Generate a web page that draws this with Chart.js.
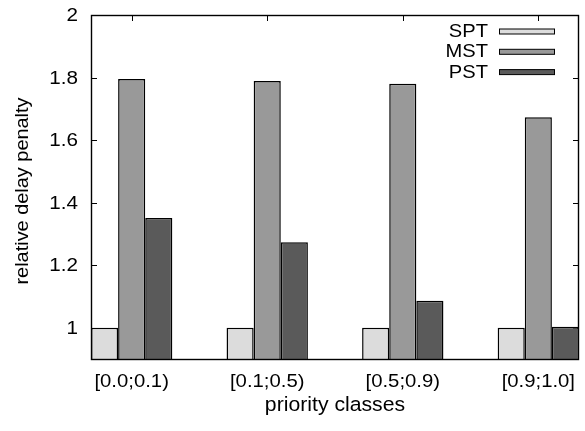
<!DOCTYPE html>
<html>
<head>
<meta charset="utf-8">
<script src="https://cdn.jsdelivr.net/npm/chart.js@4/dist/chart.umd.min.js"></script>
<style>
  html, body { margin: 0; padding: 0; background: #fff; }
  #wrap { width: 585px; height: 431px; }
</style>
</head>
<body>
<div id="wrap"><canvas id="c" width="585" height="431"></canvas></div>
<script>
const categories = ['[0.0;0.1)', '[0.1;0.5)', '[0.5;0.9)', '[0.9;1.0]'];
const seriesNames = ['SPT', 'MST', 'PST'];
const sptValues = [1, 1, 1, 1];
const mstValues = [1.795, 1.789, 1.78, 1.673];
const pstValues = [1.351, 1.273, 1.086, 1.003];
const yTickValues = [1, 1.2, 1.4, 1.6, 1.8, 2];
const yTickLabels = ['1', '1.2', '1.4', '1.6', '1.8', '2'];
const xTitle = 'priority classes';
const yTitle = 'relative delay penalty';

const colors = ['#dcdcdc', '#999999', '#5a5a5a'];
const allValues = [sptValues, mstValues, pstValues];
const FONT = '"Liberation Sans", Arial, Helvetica, sans-serif';

function sText(ctx, t, x, y, sx, align, size, rot) {
  ctx.save();
  ctx.translate(x, y);
  if (rot) ctx.rotate(rot);
  ctx.scale(sx, 1);
  ctx.font = size + 'px ' + FONT;
  ctx.textAlign = align;
  ctx.textBaseline = 'alphabetic';
  ctx.fillStyle = '#000';
  ctx.fillText(t, 0, 0);
  ctx.restore();
}

const gnuplotFrame = {
  id: 'gnuplotFrame',
  beforeDatasetsDraw(chart) {
    const { ctx, chartArea: a, scales: { x, y } } = chart;
    ctx.save();
    ctx.strokeStyle = '#000';
    ctx.lineWidth = 1;
    ctx.beginPath();
    y.ticks.forEach(t => {
      const py = Math.round(y.getPixelForValue(t.value)) + 0.5;
      ctx.moveTo(a.left, py); ctx.lineTo(a.left + 6, py);
      ctx.moveTo(a.right, py); ctx.lineTo(a.right - 6, py);
    });
    x.ticks.forEach(t => {
      const px = Math.round(x.getPixelForValue(t.value)) + 0.5;
      ctx.moveTo(px, a.bottom); ctx.lineTo(px, a.bottom - 6);
      ctx.moveTo(px, a.top); ctx.lineTo(px, a.top + 6);
    });
    ctx.stroke();
    ctx.restore();
  },
  afterDraw(chart) {
    const { ctx, chartArea: a, scales: { x, y } } = chart;
    ctx.save();
    ctx.strokeStyle = '#000';
    ctx.lineWidth = 1.4;
    ctx.strokeRect(a.left + 0.5, a.top + 0.5, a.right - a.left - 1, a.bottom - a.top);
    ctx.restore();

    y.ticks.forEach(t => {
      const py = y.getPixelForValue(t.value);
      sText(ctx, t.label, a.left - 13, py + 6, 1.18, 'right', 17.5);
    });
    x.ticks.forEach(t => {
      const px = x.getPixelForValue(t.value);
      sText(ctx, t.label, px, 387, 1.16, 'center', 17.5);
    });
    sText(ctx, xTitle, (a.left + a.right) / 2, 411, 1.1, 'center', 19.3);
    sText(ctx, yTitle, 28, (a.top + a.bottom) / 2 + 4, 1.06, 'center', 18.8, -Math.PI / 2);

    chart.data.datasets.forEach((ds, i) => {
      const base = 36.7 + i * 20.4;
      sText(ctx, ds.label, 488, base, 1.15, 'right', 17.5);
      const cy = 31.5 + i * 20.3;
      ctx.save();
      ctx.fillStyle = ds.backgroundColor;
      ctx.fillRect(499.5, cy - 2.5, 55, 5);
      ctx.strokeStyle = '#000';
      ctx.lineWidth = 1;
      ctx.strokeRect(499.5, cy - 2.5, 55, 5);
      ctx.restore();
    });
  }
};

const datasets = seriesNames.map((name, s) => ({
  label: name,
  data: categories.map((c, i) => ({ x: i, y: allValues[s][i] })),
  backgroundColor: colors[s],
  borderColor: '#000',
  borderWidth: 1.5,
  borderSkipped: 'start',
  inflateAmount: 0,
  categoryPercentage: 0.6,
  barPercentage: 1.0
}));

new Chart(document.getElementById('c'), {
  type: 'bar',
  data: { datasets },
  options: {
    responsive: false,
    animation: false,
    layout: { padding: { left: 91, top: 15, right: 6, bottom: 72 } },
    plugins: { legend: { display: false }, tooltip: { enabled: false } },
    scales: {
      x: {
        type: 'linear',
        display: false,
        offset: false,
        min: -0.3,
        max: 3.3,
        afterBuildTicks: (sc) => { sc.ticks = categories.map((c, i) => ({ value: i })); },
        ticks: { callback: (v) => categories[Math.round(v)] }
      },
      y: {
        type: 'linear',
        display: false,
        min: 0.9,
        max: 2,
        afterBuildTicks: (sc) => { sc.ticks = yTickValues.map(v => ({ value: v })); },
        ticks: { callback: (v) => yTickLabels[yTickValues.indexOf(v)] }
      }
    }
  },
  plugins: [gnuplotFrame]
});
</script>
</body>
</html>
